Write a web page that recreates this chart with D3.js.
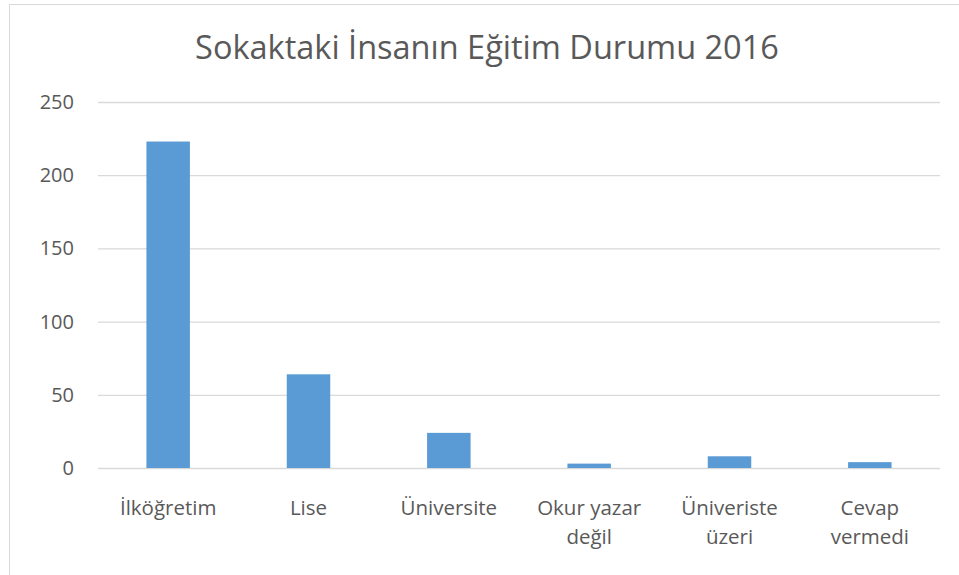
<!DOCTYPE html>
<html>
<head>
<meta charset="utf-8">
<script src="https://cdn.jsdelivr.net/npm/d3@7"></script>
<style>
  body { margin: 0; background: #fff; }
  text { font-family: "Open Sans", sans-serif; fill: #595959; }
</style>
</head>
<body>
<script>
const width = 959;
const height = 575;
const margin = {
  top: 102,
  left: 98,
  right: 19,
  bottom: 107,
};
const board = {
  width: width - (margin.left + margin.right),
  height: height - (margin.top + margin.bottom),
};

const title = 'Sokaktaki İnsanın Eğitim Durumu 2016';
const categories = ['İlköğretim', 'Lise', 'Üniversite', 'Okur yazar değil', 'Üniveriste üzeri', 'Cevap vermedi'];
const labelLines = [['İlköğretim'], ['Lise'], ['Üniversite'], ['Okur yazar', 'değil'], ['Üniveriste', 'üzeri'], ['Cevap', 'vermedi']];
const values = [223, 64, 24, 3, 8, 4];
const yTicks = [0, 50, 100, 150, 200, 250];

const root = d3.select('body')
  .append('svg')
    .attr('width', width)
    .attr('height', height);

// outer frame of the chart area
root.append('path')
  .attr('d', `M9.5,${height} V4.5 H${width}`)
  .attr('fill', 'none')
  .attr('stroke', '#d9d9d9');

root.append('text')
  .attr('x', 487)
  .attr('y', 59)
  .attr('text-anchor', 'middle')
  .attr('font-size', 32.5)
  .text(title);

const svg = root.append('g')
  .attr('transform', `translate(${margin.left}, ${margin.top})`);

const y = d3.scaleLinear()
  .domain([0, 250])
  .range([board.height, 0]);

const x = d3.scaleBand()
  .domain(categories)
  .range([0, board.width])
  .paddingInner(0.69)
  .paddingOuter(0.345);

const yAxis = d3.axisLeft(y)
  .tickValues(yTicks)
  .tickSizeInner(-board.width)
  .tickSizeOuter(0)
  .tickPadding(24);

const gy = svg.append('g')
  .attr('class', 'y axis')
  .call(yAxis);

gy.select('.domain').remove();
gy.selectAll('.tick line')
  .attr('stroke', '#d9d9d9')
  .attr('stroke-width', 1.3);
gy.selectAll('.tick text')
  .attr('font-size', 20)
  .attr('font-family', '"Open Sans", sans-serif')
  .attr('fill', '#595959');

svg.selectAll('.bar')
  .data(values)
  .enter()
    .append('rect')
    .attr('class', 'bar')
    .attr('fill', '#5b9bd5')
    .attr('x', (d, i) => x(categories[i]))
    .attr('width', x.bandwidth())
    .attr('y', (d) => y(d))
    .attr('height', (d) => board.height - y(d));

const labels = svg.selectAll('.label')
  .data(labelLines)
  .enter()
    .append('text')
    .attr('class', 'label')
    .attr('text-anchor', 'middle')
    .attr('font-size', 20.5)
    .attr('transform', (d, i) => `translate(${x(categories[i]) + x.bandwidth() / 2}, ${board.height + 47})`);

labels.selectAll('tspan')
  .data((d) => d)
  .enter()
    .append('tspan')
    .attr('x', 0)
    .attr('dy', (d, i) => (i === 0 ? 0 : 29))
    .text((d) => d);
</script>
</body>
</html>
